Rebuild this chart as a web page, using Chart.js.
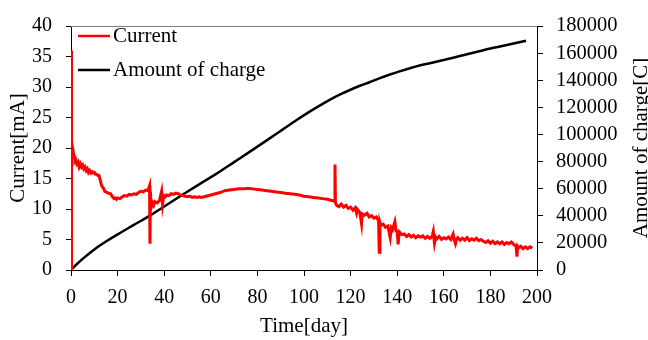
<!DOCTYPE html>
<html>
<head>
<meta charset="utf-8">
<script src="https://cdn.jsdelivr.net/npm/chart.js@4"></script>
<style>
html,body{margin:0;padding:0;background:#fff;}
canvas{display:block;}
</style>
</head>
<body>
<canvas id="c" width="648" height="340"></canvas>
<script>
// ---- data ----
const xTicks = [0,20,40,60,80,100,120,140,160,180,200];
const currentTicks = [0,5,10,15,20,25,30,35,40];
const chargeTicks = [0,20000,40000,60000,80000,100000,120000,140000,160000,180000];
const xTitle = 'Time[day]';
const currentTitle = 'Current[mA]';
const chargeTitle = 'Amount of charge[C]';

const currentDays = [
0,0.05,0.2,0.4,0.7,1,1.4,1.7,2,2.5,3,3.5,4,4.5,5,5.5,6,6.5,7,7.5,8,8.5,9,9.5,10,10.5,11,11.5,12,12.5,13,13.5,14,14.5,15,16,17,17.5,18,18.5,19,19.5,20,21,22,23,24,25,26,27,28,29,30,31,32,33,33.7,33.9,34.1,34.4,35,35.5,36,37,38,38.9,39.3,39.8,40.5,41,42,43,44,45,46,47,48,49,50,51,52,53,54,55,56,58,60,62,64,66,68,70,72,74,76,78,80,82,84,86,88,90,92,94,96,98,100,102,104,106,108,110,112,113,113.3,113.5,114,115,116,117,118,119,
120,121,122,122.6,123,124,124.7,125,126,127,128,129,130,131,132,132.3,132.6,133,134,135,136,137,137.5,138,139,139.5,140,140.4,140.8,141,142,143,144,145,146,147,148,149,150,151,152,153,154,155,155.5,156,156.5,157,158,159,160,161,162,163,164,164.5,165,165.5,166,167,168,169,170,171,172,173,174,
175,176,177,178,179,180,181,182,183,184,185,186,187,188,189,190,191,191.4,191.7,192,193,194,195,196,197,198
];
const currentValues = [
0,36,24,21,20,19.3,18.6,17.9,18.1,17.4,17.7,16.9,17.4,16.9,17.2,16.6,16.9,16.3,16.6,16.0,16.3,15.9,16.1,15.9,16.0,15.7,15.7,15.5,15.5,14.8,14.0,13.6,13.4,12.9,12.8,12.6,12.5,12.2,11.9,11.7,11.8,11.6,11.8,11.7,12.0,12.2,12.1,12.4,12.3,12.5,12.4,12.7,12.9,12.8,13.1,13.0,13.8,4.3,12.8,10.2,11.0,10.6,11.2,11.0,11.4,12.9,10.8,12.2,12.0,12.3,12.2,12.5,12.4,12.6,12.5,12.3,12.2,12.1,12.0,12.1,11.9,12.0,11.9,12.0,11.9,12.1,12.3,12.5,12.7,13.0,13.1,13.2,13.3,13.3,13.4,13.3,13.2,13.1,13.0,12.9,12.8,12.7,12.6,12.5,12.4,12.3,12.1,12.0,11.9,11.8,11.7,11.6,11.4,11.3,17.3,11.0,10.6,10.4,10.8,10.3,10.6,10.1,
10.3,9.8,10.2,9.3,9.9,9.4,7.6,9.2,9.0,9.3,8.7,8.9,8.5,8.7,8.1,2.9,7.8,7.3,7.5,7.0,7.2,5.3,6.9,6.6,7.9,6.4,6.3,4.2,6.0,6.2,5.8,5.9,5.5,5.8,5.4,5.7,5.3,5.6,5.4,5.6,5.2,5.5,5.2,5.5,6.3,4.4,5.4,5.1,5.5,5.0,5.3,5.1,5.4,5.0,5.9,4.9,4.3,5.1,5.3,4.9,5.2,4.9,5.3,4.8,5.1,4.9,5.2,
4.8,5.0,4.7,4.5,4.8,4.4,4.7,4.3,4.6,4.3,4.6,4.2,4.5,4.3,4.6,4.2,3.9,2.2,3.8,3.6,3.9,3.5,3.8,3.5,3.8,3.6
];

const chargeDays = [0,2,5,10,15,20,27,34,41,48,55,62.5,70,76.8,84,91.1,97,102.6,108,112.6,116,119.7,124,128.3,132.6,136.9,141,150,162.7,170,180,188,195.3];
const chargeValues = [0,3500,8200,15200,21000,26300,33300,40300,48000,55700,63200,71100,79600,87300,95600,103900,110800,117000,122600,127000,129900,132800,135900,138700,141600,144200,146500,151000,156000,159200,163400,166300,169100];

const FONT = 'Liberation Serif';

const framePlugin = {
  id: 'frame',
  afterDatasetsDraw(chart) {
    const {ctx, chartArea: a} = chart;
    ctx.save();
    ctx.strokeStyle = '#7f7f7f';
    ctx.lineWidth = 1;
    ctx.beginPath();
    ctx.moveTo(a.left, a.top + 0.5);
    ctx.lineTo(a.right, a.top + 0.5);
    ctx.stroke();
    ctx.restore();
  },
  afterDraw(chart) {
    const {ctx, chartArea: a} = chart;
    const items = chart.data.datasets.map(d => ({label: d.label, color: d.borderColor}));
    const ys = [36, 70];
    ctx.save();
    items.forEach((it, i) => {
      ctx.strokeStyle = it.color;
      ctx.lineWidth = 2.5;
      ctx.beginPath();
      ctx.moveTo(78, ys[i]);
      ctx.lineTo(110, ys[i]);
      ctx.stroke();
      ctx.fillStyle = '#000';
      ctx.font = '21px "' + FONT + '"';
      ctx.textBaseline = 'middle';
      ctx.textAlign = 'left';
      ctx.fillText(it.label, 113, ys[i]);
    });
    // right axis title, reading bottom-to-top
    ctx.translate(647, (a.top + a.bottom) / 2);
    ctx.rotate(-Math.PI / 2);
    ctx.font = '21px "' + FONT + '"';
    ctx.textAlign = 'center';
    ctx.textBaseline = 'alphabetic';
    ctx.fillStyle = '#000';
    ctx.fillText(chargeTitle, 0, 0);
    ctx.restore();
  }
};

new Chart(document.getElementById('c'), {
  type: 'line',
  data: {
    datasets: [
      {
        label: 'Current',
        data: currentDays.map((d, i) => ({x: d, y: currentValues[i]})),
        borderColor: '#ff0000',
        borderWidth: 3,
        pointRadius: 0,
        tension: 0,
        yAxisID: 'y'
      },
      {
        label: 'Amount of charge',
        data: chargeDays.map((d, i) => ({x: d, y: chargeValues[i]})),
        borderColor: '#000000',
        borderWidth: 2.5,
        pointRadius: 0,
        cubicInterpolationMode: 'monotone',
        yAxisID: 'y2'
      }
    ]
  },
  options: {
    responsive: false,
    animation: false,
    devicePixelRatio: 1,
    layout: {padding: {top: 17, left: 0, right: 0, bottom: 0}},
    plugins: {legend: {display: false}, tooltip: {enabled: false}},
    scales: {
      x: {
        type: 'linear', min: 0, max: 200,
        afterBuildTicks: s => { s.ticks = xTicks.map(v => ({value: v})); },
        afterFit: s => { s.height = 70; },
        grid: {drawOnChartArea: false, drawTicks: true, tickLength: 6, color: '#000'},
        border: {color: '#000', width: 1},
        ticks: {font: {family: FONT, size: 20}, color: '#000', padding: 10, maxRotation: 0, autoSkip: false},
        title: {display: true, text: xTitle, font: {family: FONT, size: 21}, color: '#000', padding: {top: 0, bottom: 1}}
      },
      y: {
        type: 'linear', position: 'left', min: 0, max: 40,
        afterBuildTicks: s => { s.ticks = currentTicks.map(v => ({value: v})); },
        afterFit: s => { s.width = 71; },
        grid: {drawOnChartArea: false, drawTicks: true, tickLength: 5, color: '#000'},
        border: {color: '#000', width: 1},
        ticks: {font: {family: FONT, size: 20}, color: '#000', padding: 14, autoSkip: false},
        title: {display: true, text: currentTitle, font: {family: FONT, size: 21}, color: '#000', padding: {top: 6, bottom: 0}}
      },
      y2: {
        type: 'linear', position: 'right', min: 0, max: 180000,
        afterBuildTicks: s => { s.ticks = chargeTicks.map(v => ({value: v})); },
        afterFit: s => { s.width = 111; },
        grid: {drawOnChartArea: false, drawTicks: true, tickLength: 6, color: '#000'},
        border: {color: '#000', width: 1},
        ticks: {font: {family: FONT, size: 20.5}, color: '#000', padding: 13, autoSkip: false, callback: v => String(v)},
        title: {display: false}
      }
    }
  },
  plugins: [framePlugin]
});
</script>
</body>
</html>
